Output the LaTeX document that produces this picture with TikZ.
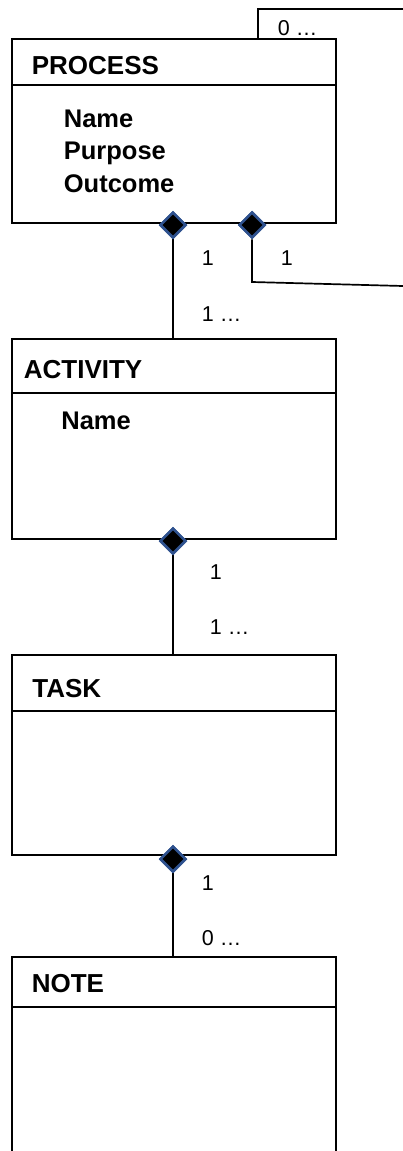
\documentclass[tikz,border=0pt]{standalone}
\usepackage{fontspec}
\setmainfont{Liberation Sans}
\usetikzlibrary{shapes.geometric}
\definecolor{umlblue}{RGB}{47,82,143}

\begin{document}
\begin{tikzpicture}[x=1pt,y=-1pt,line width=1.7pt,
  classpart/.style={draw,rectangle,minimum width=324,inner sep=0pt},
  classname/.style={anchor=base west,inner sep=0pt,font=\fontsize{26}{30}\selectfont\bfseries},
  classattr/.style={anchor=base west,inner sep=0pt,align=left,font=\fontsize{25.5}{32.5}\selectfont\bfseries},
  mult/.style={anchor=base west,inner sep=0pt,font=\fontsize{21.5}{25}\selectfont},
  comp/.style={diamond,draw=umlblue,fill=black,line width=2.5pt,inner sep=0pt,minimum width=26,minimum height=26}]
\useasboundingbox (0,0) rectangle (403,1151);
\clip (0,0) rectangle (403,1151);
\node[classpart,minimum height=46] (process) at (174,62) {};
\node[classpart,minimum height=138] (processbody) at (174,154) {};
\node[classname] (processname) at (31,74) {PROCESS};
\node[classattr] (processattr) at (63,192) {Name\\Purpose\\Outcome};
\node[classpart,minimum height=54] (activity) at (174,366) {};
\node[classpart,minimum height=146] (activitybody) at (174,466) {};
\node[classname] (activityname) at (23,378) {ACTIVITY};
\node[classattr] (activityattr) at (60.5,429) {Name};
\node[classpart,minimum height=56] (task) at (174,683) {};
\node[classpart,minimum height=144] (taskbody) at (174,783) {};
\node[classname] (taskname) at (31.5,697) {TASK};
\node[classpart,minimum height=50] (note) at (174,982) {};
\node[classpart,minimum height=172] (notebody) at (174,1093) {};
\node[classname] (notename) at (31,992) {NOTE};
\coordinate (loopa) at (258,9);
\coordinate (loopaend) at (403,9);
\coordinate (loopb) at (252,282);
\coordinate (loopbend) at (403,286);
\node[comp] (pd1) at (173,225) {};
\node[comp] (pd2) at (252,225) {};
\node[comp] (ad) at (173,541) {};
\node[comp] (td) at (173,859) {};
\draw (process.north -| loopa) -- (loopa) -- (loopaend);
\draw (pd2.south) -- (loopb) -- (loopbend);
\draw (pd1.south) -- (pd1.south |- activity.north);
\draw (ad.south) -- (ad.south |- task.north);
\draw (td.south) -- (td.south |- note.north);
\node[comp] at (pd1) {};
\node[comp] at (pd2) {};
\node[comp] at (ad) {};
\node[comp] at (td) {};
\node[mult] (loopamult) at (277,35) {0 …};
\node[mult] (pd1mult) at (201,265) {1};
\node[mult] (pd2mult) at (280,265) {1};
\node[mult] (actmult) at (201,321) {1 …};
\node[mult] (ad1mult) at (209,579) {1};
\node[mult] (taskmult) at (209,634) {1 …};
\node[mult] (td1mult) at (201,890) {1};
\node[mult] (notemult) at (201,945) {0 …};
\end{tikzpicture}
\end{document}
